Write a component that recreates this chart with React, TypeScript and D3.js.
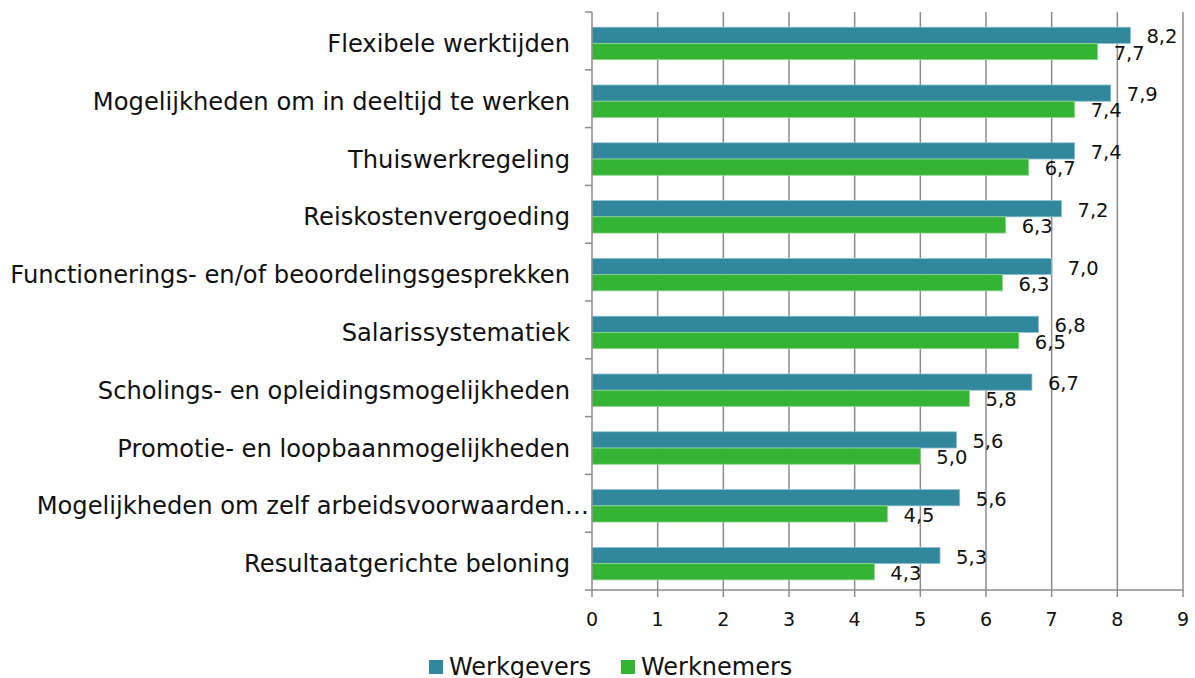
import React, { useRef, useEffect } from "react";
import { select, scaleLinear, scaleBand, range } from "d3";

const categories = [
  "Flexibele werktijden",
  "Mogelijkheden om in deeltijd te werken",
  "Thuiswerkregeling",
  "Reiskostenvergoeding",
  "Functionerings- en/of beoordelingsgesprekken",
  "Salarissystematiek",
  "Scholings- en opleidingsmogelijkheden",
  "Promotie- en loopbaanmogelijkheden",
  "Mogelijkheden om zelf arbeidsvoorwaarden…",
  "Resultaatgerichte beloning",
];
const seriesNames = ["Werkgevers", "Werknemers"];
const werkgevers = [8.2, 7.9, 7.35, 7.15, 7.0, 6.8, 6.7, 5.55, 5.6, 5.3];
const werknemers = [7.7, 7.35, 6.65, 6.3, 6.25, 6.5, 5.75, 5.0, 4.5, 4.3];
const labelsWerkgevers = ["8,2", "7,9", "7,4", "7,2", "7,0", "6,8", "6,7", "5,6", "5,6", "5,3"];
const labelsWerknemers = ["7,7", "7,4", "6,7", "6,3", "6,3", "6,5", "5,8", "5,0", "4,5", "4,3"];
const xTicks = [0, 1, 2, 3, 4, 5, 6, 7, 8, 9];
const colors = ["#31879B", "#35B335"];
const strokes = ["#8cc3d0", "#8fd68f"];

const App: React.FC = () => {
  const ref = useRef<SVGSVGElement>(null);

  useEffect(() => {
    const svg = select(ref.current);
    svg.selectAll("*").remove();
    const font = "'DejaVu Sans', Verdana, sans-serif";

    const left = 592, right = 1183, top = 12, bottom = 590;
    const x = scaleLinear().domain([0, 9]).range([left, right]);
    const y = scaleBand<string>().domain(categories).range([top, bottom]);
    const y1 = scaleBand<string>()
      .domain(seriesNames)
      .range([0, y.bandwidth()])
      .paddingOuter(0.78)
      .align(0.6);

    // gridlines
    svg.append("g")
      .selectAll("line")
      .data(xTicks.slice(1))
      .enter()
      .append("line")
      .attr("x1", (d) => x(d))
      .attr("x2", (d) => x(d))
      .attr("y1", top)
      .attr("y2", bottom)
      .attr("stroke", "#8c8c8c")
      .attr("stroke-width", 1.5);

    // bars + value labels
    const data = [werkgevers, werknemers];
    const labels = [labelsWerkgevers, labelsWerknemers];
    seriesNames.forEach((s, si) => {
      const g = svg.append("g");
      g.selectAll("rect")
        .data(range(categories.length))
        .enter()
        .append("rect")
        .attr("x", x(0))
        .attr("y", (i) => (y(categories[i]) as number) + (y1(s) as number))
        .attr("width", (i) => x(data[si][i]) - x(0))
        .attr("height", y1.bandwidth())
        .attr("fill", colors[si])
        .attr("stroke", strokes[si])
        .attr("stroke-width", 0.8);
      g.selectAll("text")
        .data(range(categories.length))
        .enter()
        .append("text")
        .attr("x", (i) => x(data[si][i]) + 16)
        .attr("y", (i) => (y(categories[i]) as number) + (y1(s) as number) + y1.bandwidth() / 2 + 1.5)
        .attr("dominant-baseline", "central")
        .attr("font-family", font)
        .attr("font-size", 19.5)
        .attr("fill", "#111")
        .text((i) => labels[si][i]);
    });

    // axes
    const axisColor = "#8c8c8c";
    svg.append("line")
      .attr("x1", left).attr("x2", left).attr("y1", top).attr("y2", bottom)
      .attr("stroke", axisColor).attr("stroke-width", 1.5);
    svg.append("line")
      .attr("x1", left).attr("x2", right).attr("y1", bottom).attr("y2", bottom)
      .attr("stroke", axisColor).attr("stroke-width", 1.5);
    const bounds = categories.map((c) => y(c) as number).concat([bottom]);
    svg.append("g")
      .selectAll("line")
      .data(bounds)
      .enter()
      .append("line")
      .attr("x1", left - 7).attr("x2", left)
      .attr("y1", (d) => d).attr("y2", (d) => d)
      .attr("stroke", axisColor).attr("stroke-width", 1.5);
    svg.append("g")
      .selectAll("line")
      .data(xTicks)
      .enter()
      .append("line")
      .attr("x1", (d) => x(d)).attr("x2", (d) => x(d))
      .attr("y1", bottom).attr("y2", bottom + 7)
      .attr("stroke", axisColor).attr("stroke-width", 1.5);
    svg.append("g")
      .selectAll("text")
      .data(xTicks)
      .enter()
      .append("text")
      .attr("x", (d) => x(d))
      .attr("y", 619)
      .attr("text-anchor", "middle")
      .attr("dominant-baseline", "central")
      .attr("font-family", font)
      .attr("font-size", 19)
      .attr("fill", "#111")
      .text((d) => d);

    // category labels (the truncated one sits flush against the axis)
    svg.append("g")
      .selectAll("text")
      .data(categories)
      .enter()
      .append("text")
      .attr("x", (d) => (d.endsWith("…") ? 589 : 570))
      .attr("y", (d) => (y(d) as number) + y.bandwidth() / 2 + 3)
      .attr("text-anchor", "end")
      .attr("dominant-baseline", "central")
      .attr("font-family", font)
      .attr("font-size", 24.2)
      .attr("fill", "#111")
      .text((d) => d);

    // legend
    const legendX = [429, 621];
    seriesNames.forEach((s, si) => {
      svg.append("rect")
        .attr("x", legendX[si]).attr("y", 660)
        .attr("width", 14).attr("height", 14)
        .attr("fill", colors[si]);
      svg.append("text")
        .attr("x", legendX[si] + 20).attr("y", 675)
        .attr("font-family", font)
        .attr("font-size", 24)
        .attr("fill", "#111")
        .text(s);
    });
  }, []);

  return (
    <svg ref={ref} width={1195} height={678} style={{ position: "absolute", left: 0, top: 0, background: "#fff" }} />
  );
};

export default App;
